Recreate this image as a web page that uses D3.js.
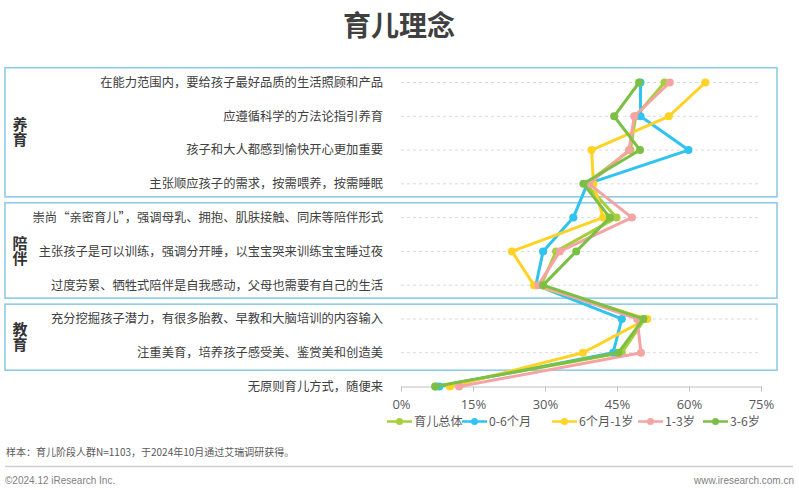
<!DOCTYPE html>
<html><head><meta charset="utf-8">
<script src="https://cdn.jsdelivr.net/npm/d3@7/dist/d3.min.js"></script>
<style>body{margin:0;background:#fff;}svg{display:block;font-family:"Noto Sans CJK SC","Noto Sans",sans-serif;}</style>
</head><body>
<svg id="c" width="799" height="490"></svg>
<script>
const categories = [
  "在能力范围内，要给孩子最好品质的生活照顾和产品",
  "应遵循科学的方法论指引养育",
  "孩子和大人都感到愉快开心更加重要",
  "主张顺应孩子的需求，按需喂养，按需睡眠",
  "崇尚“亲密育儿”，强调母乳、拥抱、肌肤接触、同床等陪伴形式",
  "主张孩子是可以训练，强调分开睡，以宝宝哭来训练宝宝睡过夜",
  "过度劳累、牺牲式陪伴是自我感动，父母也需要有自己的生活",
  "充分挖掘孩子潜力，有很多胎教、早教和大脑培训的内容输入",
  "注重美育，培养孩子感受美、鉴赏美和创造美",
  "无原则育儿方式，随便来"
];
const groups = ["养育","陪伴","教育"];
const groupRows = [[0,3],[4,6],[7,8]];
const seriesNames = ["育儿总体","0-6个月","6个月-1岁","1-3岁","3-6岁"];
const total   = [54.9,48.9,47.8,38.5,44.9,32.3,29.2,50.8,46.0,7.3];
const m0_6    = [49.9,49.9,59.9,38.8,35.9,29.6,28.1,46.0,44.2,8.0];
const m6_y1   = [63.4,55.8,39.7,40.1,42.1,23.1,27.7,51.3,37.9,10.2];
const y1_3    = [56.0,48.6,47.5,39.2,48.1,33.1,28.6,49.2,50.0,12.1];
const y3_6    = [49.6,44.4,49.8,38.0,43.5,36.5,29.6,50.5,45.3,7.1];
const ticks = [0,15,30,45,60,75];
const colors = ["#a6cf3b","#2ec4ef","#fed325","#f5a3a3","#7cbf45"];
const series = [total,m0_6,m6_y1,y1_3,y3_6];

const svg = d3.select("#c");
const x = d3.scaleLinear().domain([0,75]).range([401,761]);
const y = d3.scalePoint().domain(d3.range(categories.length)).range([82.5,386.5]);

// title
svg.append("text").attr("x",399).attr("y",36).attr("text-anchor","middle")
  .attr("font-size",28).attr("font-weight","bold").attr("fill","#404040").text("育儿理念");

// group boxes
groupRows.forEach((r,i)=>{
  const top = y(r[0]) - 14.8;
  const bot = y(r[1]) + (i===groupRows.length-1 ? 17.5 : 13);
  svg.append("rect").attr("x",5).attr("y",top).attr("width",772).attr("height",bot-top)
    .attr("fill","none").attr("stroke","#8fcbe5").attr("stroke-width",1.6);
  const cy = (top+bot)/2;
  svg.append("text").attr("x",20).attr("y",cy)
    .attr("text-anchor","middle")
    .style("writing-mode","vertical-rl").style("text-orientation","upright")
    .attr("font-size",15).attr("font-weight","bold")
    .attr("fill","#333").text(groups[i]);
});

// grid lines
svg.append("g").selectAll("line").data(d3.range(categories.length-1)).join("line")
  .attr("x1",x(0)).attr("x2",x(75)).attr("y1",d=>y(d)).attr("y2",d=>y(d))
  .attr("stroke","#d9d9d9").attr("stroke-dasharray","3,3").attr("stroke-width",1);

// category labels
svg.append("g").selectAll("text").data(categories).join("text")
  .attr("x",383).attr("y",(d,i)=>y(i)+4.4).attr("text-anchor","end")
  .style("font-feature-settings","'fwid'")
  .attr("font-size",12.3).attr("fill","#404040").text(d=>d);

// x axis
const ax = svg.append("g").attr("transform",`translate(0,${y(categories.length-1)})`)
  .call(d3.axisBottom(x).tickValues(ticks).tickFormat(d=>d+"%").tickSize(5).tickPadding(8));
ax.select(".domain").attr("stroke","#bfbfbf");
ax.selectAll(".tick line").attr("stroke","#bfbfbf");
ax.selectAll(".tick text").attr("font-size",13).attr("fill","#595959")
  .attr("font-family","'Open Sans','Noto Sans',sans-serif");

// lines
const line = d3.line().x(d=>x(d[0])).y(d=>y(d[1]));
series.forEach((s,si)=>{
  const g = svg.append("g");
  g.append("path").datum(s.map((v,i)=>[v,i])).attr("d",line)
    .attr("fill","none").attr("stroke",colors[si]).attr("stroke-width",3)
    .attr("stroke-linejoin","round");
  g.selectAll("circle").data(s).join("circle")
    .attr("cx",d=>x(d)).attr("cy",(d,i)=>y(i)).attr("r",4).attr("fill",colors[si]);
});

// legend
const legX = [387,462,552,638,703];
const lg = svg.append("g");
seriesNames.forEach((n,i)=>{
  const gx = legX[i], gy = 421.5;
  lg.append("line").attr("x1",gx).attr("x2",gx+25).attr("y1",gy).attr("y2",gy)
    .attr("stroke",colors[i]).attr("stroke-width",2.5);
  lg.append("circle").attr("cx",gx+12.5).attr("cy",gy).attr("r",3.5).attr("fill",colors[i]);
  lg.append("text").attr("x",gx+27).attr("y",gy+4.3).attr("font-size",12.2)
    .attr("fill","#595959").text(n);
});

// footer
svg.append("text").attr("x",6).attr("y",456).attr("font-size",10).attr("fill","#595959")
  .text("样本：育儿阶段人群N=1103，于2024年10月通过艾瑞调研获得。");
svg.append("line").attr("x1",5).attr("x2",793).attr("y1",466.5).attr("y2",466.5)
  .attr("stroke","#d0d0d0").attr("stroke-width",1.5);
svg.append("text").attr("x",5).attr("y",484).attr("font-size",10).attr("fill","#7f7f7f")
  .attr("font-family","'Liberation Sans Narrow','Liberation Sans',sans-serif").text("©2024.12 iResearch Inc.");
svg.append("text").attr("x",794).attr("y",484).attr("font-size",10).attr("fill","#7f7f7f")
  .attr("text-anchor","end")
  .attr("font-family","'Liberation Sans Narrow','Liberation Sans',sans-serif").text("www.iresearch.com.cn");
</script>
</body></html>
